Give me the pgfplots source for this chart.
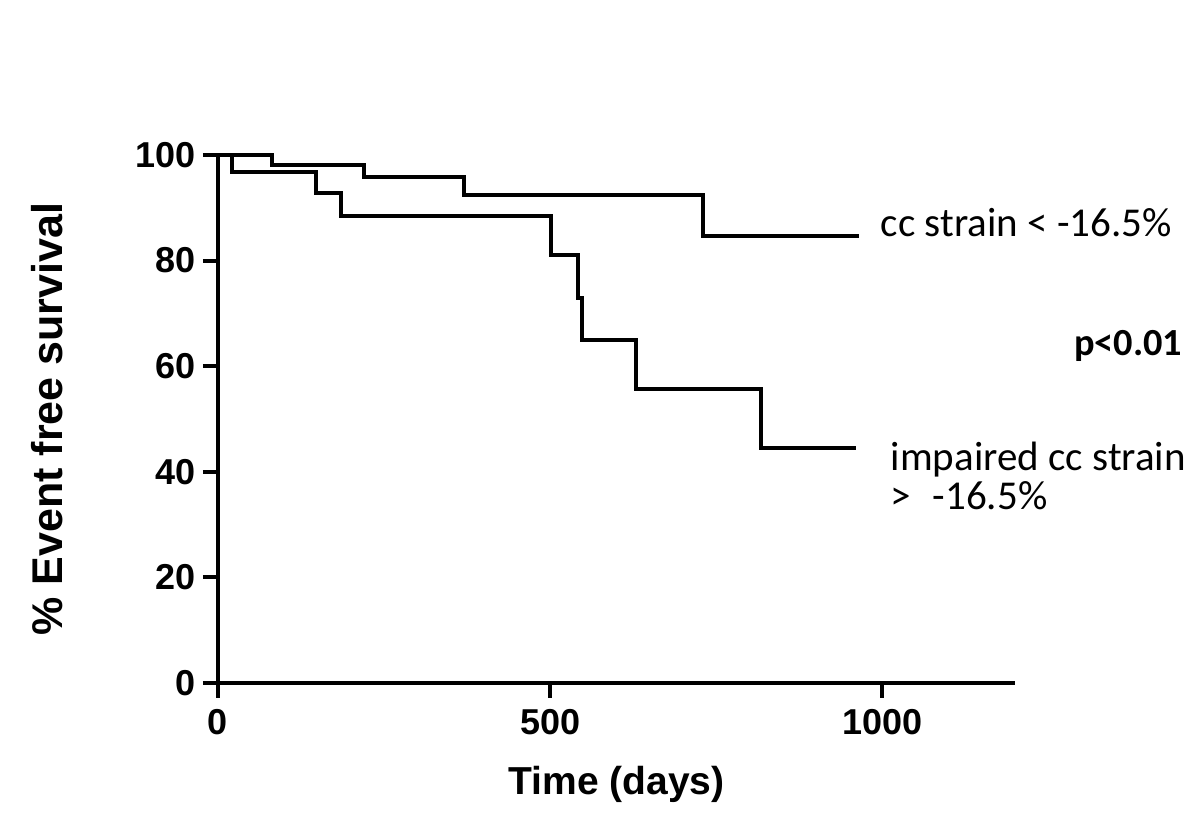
\documentclass[border=0pt]{standalone}
\usepackage{fontspec}
\setmainfont{Liberation Sans}
\newfontfamily\carlito{Carlito}
\usepackage{pgfplots}
\pgfplotsset{compat=1.18}

\begin{document}
\begin{tikzpicture}
\useasboundingbox (-65.4pt,-44.4pt) rectangle (294.6pt,204.9pt);
\begin{axis}[
    at={(0,0)}, anchor=south west,
    scale only axis,
    width=239.1pt, height=158.4pt,
    xmin=0, xmax=1200, ymin=0, ymax=100,
    axis x line=bottom, axis y line=left,
    axis line style={-, line width=1.2pt},
    xtick={0,500,1000}, ytick={0,20,40,60,80,100},
    tick align=outside, major tick length=4.5pt,
    tick style={line width=1.2pt, black},
    ticklabel style={font=\bfseries\fontsize{10.8}{12}\selectfont},
    yticklabel style={inner sep=2pt},
    /pgf/number format/assume math mode=true,
    /pgf/number format/1000 sep={},
    clip=false,
]
% Kaplan-Meier steps (days, % event free)
\addplot[const plot, line width=1.2pt, black] coordinates {
    (0,100) (82,98.1) (220,95.8) (370,92.4) (730,84.7) (965,84.7)};
\addplot[const plot, line width=1.2pt, black] coordinates {
    (0,100) (21,96.8) (147,92.8) (185,88.4) (501,81.1) (542,72.9)
    (548,65.0) (630,55.7) (818,44.5) (961,44.5)};

\node[anchor=base west, inner sep=0, font=\carlito\fontsize{12.3}{14}\selectfont] at (axis cs:997,84.5) {cc strain < -16.5\%};
\node[anchor=base west, inner sep=0, font=\carlito\bfseries\fontsize{11.5}{13}\selectfont] at (axis cs:1288,62.1) {p<0.01};
\node[anchor=base west, inner sep=0, font=\carlito\fontsize{12.3}{14}\selectfont] at (axis cs:1012,40.3) {impaired cc strain};
\node[anchor=base west, inner sep=0, font=\carlito\fontsize{12.3}{14}\selectfont] at (axis cs:1012,32.8) {>\hspace{6.5pt}-16.5\%};

\node[anchor=base, inner sep=0, yshift=-33.6pt, font=\bfseries\fontsize{11.7}{13}\selectfont] at (rel axis cs:0.5,0) {Time (days)};
\node[anchor=base, inner sep=0, xshift=-46.5pt, rotate=90, font=\bfseries\fontsize{12.9}{14}\selectfont] at (rel axis cs:0,0.5) {\% Event free survival};
\end{axis}
\end{tikzpicture}
\end{document}
